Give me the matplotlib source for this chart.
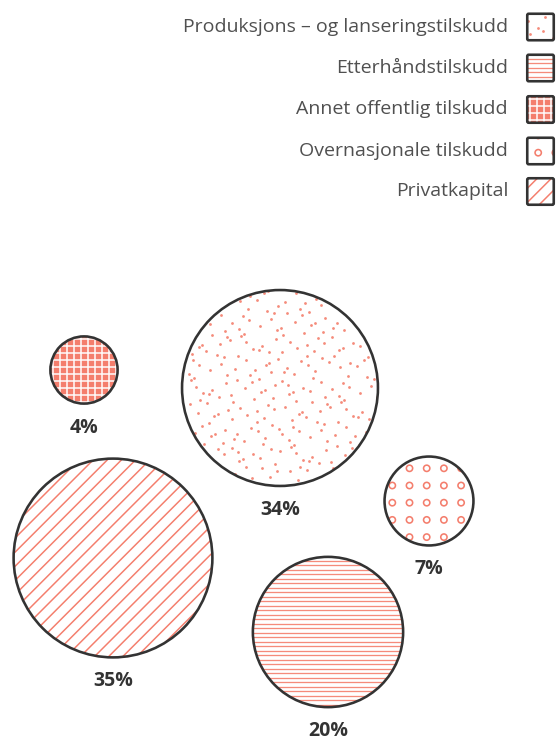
import numpy as np
import matplotlib
matplotlib.use("Agg")
import matplotlib.pyplot as plt
from matplotlib.patches import Circle, FancyBboxPatch
from matplotlib.collections import LineCollection

# ---- data -------------------------------------------------------------
categories = [
    "Produksjons – og lanseringstilskudd",
    "Etterhåndstilskudd",
    "Annet offentlig tilskudd",
    "Overnasjonale tilskudd",
    "Privatkapital",
]
shares = [34, 20, 4, 7, 35]
patterns = ["dots", "hlines", "grid", "rings", "diag"]

# ---- layout (pixel coordinates, y downward) ---------------------------
W, H = 556, 740
bubble_centers = [(280, 388), (328, 632), (84, 370), (429, 501), (113, 558)]
radius_scale = 16.8          # radius = scale * sqrt(share)
label_gap = 24
legend_rows_y = [27, 68, 109.5, 151, 191.5]
legend_box_x = 540.5
legend_box_size = 26.5
legend_text_x = 508

SALMON = "#F47E6D"
OUTLINE = "#333333"
TEXT = "#505050"
PX = 72 / 100               # points per pixel at dpi 100

plt.rcParams["font.family"] = ["Open Sans", "DejaVu Sans"]

fig = plt.figure(figsize=(W / 100, H / 100), dpi=100)
ax = fig.add_axes([0, 0, 1, 1])
ax.set_xlim(0, W)
ax.set_ylim(H, 0)
ax.set_aspect("equal")
ax.axis("off")


def halton(i, base):
    f, r = 1.0, 0.0
    while i > 0:
        f /= base
        r += f * (i % base)
        i //= base
    return r


def draw_pattern(kind, clip, cx, cy, half):
    """Fill the region [cx-half, cx+half]^2 with a texture clipped to `clip`."""
    x0, x1 = cx - half, cx + half
    y0, y1 = cy - half, cy + half
    if kind == "dots":
        n = int((2 * half) ** 2 / 125)
        pts = np.array([(halton(i + 20, 2), halton(i + 20, 3)) for i in range(n)])
        xs = x0 + pts[:, 0] * 2 * half
        ys = y0 + pts[:, 1] * 2 * half
        art = ax.scatter(xs, ys, s=(2.2 * PX) ** 2 * 1.6, color=SALMON,
                         linewidths=0, alpha=0.9, zorder=2)
        art.set_clip_path(clip)
    elif kind == "hlines":
        ys = np.arange(y0 + 1.5, y1, 4.5)
        segs = [[(x0, y), (x1, y)] for y in ys]
        lc = LineCollection(segs, colors=SALMON, linewidths=1.3 * PX, alpha=0.9, zorder=2)
        ax.add_collection(lc)
        lc.set_clip_path(clip)
    elif kind == "diag":
        # lines rising to the right (y axis points down), 10 px apart
        step = 10 * np.sqrt(2)
        offs = np.arange(-2 * half, 2 * half + step, step)
        segs = [[(cx + o - 2 * half, cy + 2 * half), (cx + o + 2 * half, cy - 2 * half)]
                for o in offs]
        lc = LineCollection(segs, colors=SALMON, linewidths=1.5 * PX, zorder=2)
        ax.add_collection(lc)
        lc.set_clip_path(clip)
    elif kind == "grid":
        period = 7.0
        xs = np.arange(cx - 3.5 - period * np.ceil(half / period), x1 + period, period)
        ys = np.arange(cy - 3.5 - period * np.ceil(half / period), y1 + period, period)
        segs = [[(x, y0), (x, y1)] for x in xs] + [[(x0, y), (x1, y)] for y in ys]
        lc = LineCollection(segs, colors="white", linewidths=1.5 * PX, zorder=2)
        ax.add_collection(lc)
        lc.set_clip_path(clip)
    elif kind == "rings":
        period = 17.2
        k = np.ceil(half / period) + 1
        gx = cx - 2.3 + period * np.arange(-k, k + 1)
        gy = cy + 1.7 + period * np.arange(-k, k + 1)
        XX, YY = np.meshgrid(gx, gy)
        art = ax.scatter(XX.ravel(), YY.ravel(), s=(6.3 * PX) ** 2, facecolors="none",
                         edgecolors=SALMON, linewidths=1.6 * PX, zorder=2)
        art.set_clip_path(clip)


# ---- bubbles ------------------------------------------------------------
for share, kind, (cx, cy) in zip(shares, patterns, bubble_centers):
    r = radius_scale * np.sqrt(share)
    base = Circle((cx, cy), r, facecolor=SALMON if kind == "grid" else "white",
                  edgecolor="none", zorder=1)
    ax.add_patch(base)
    draw_pattern(kind, base, cx, cy, r + 2)
    ax.add_patch(Circle((cx, cy), r, fill=False, edgecolor=OUTLINE,
                        linewidth=2.6 * PX, zorder=3))
    ax.text(cx, cy + r + label_gap, f"{share}%", ha="center", va="center",
            fontsize=14, fontweight="bold", color=OUTLINE, zorder=4)

# ---- legend -------------------------------------------------------------
for label, kind, y in zip(categories, patterns, legend_rows_y):
    s = legend_box_size
    bx, by = legend_box_x - s / 2, y - s / 2
    base = FancyBboxPatch((bx, by), s, s, boxstyle="round,pad=0,rounding_size=1.5",
                          facecolor=SALMON if kind == "grid" else "white",
                          edgecolor="none", zorder=1)
    ax.add_patch(base)
    draw_pattern(kind, base, legend_box_x, y, s / 2 + 2)
    ax.add_patch(FancyBboxPatch((bx, by), s, s, boxstyle="round,pad=0,rounding_size=1.5",
                                fill=False, edgecolor=OUTLINE, linewidth=2.6 * PX, zorder=3))
    ax.text(legend_text_x, y, label, ha="right", va="center",
            fontsize=14, color=TEXT, zorder=4)

fig.savefig("out.png", dpi=100)
